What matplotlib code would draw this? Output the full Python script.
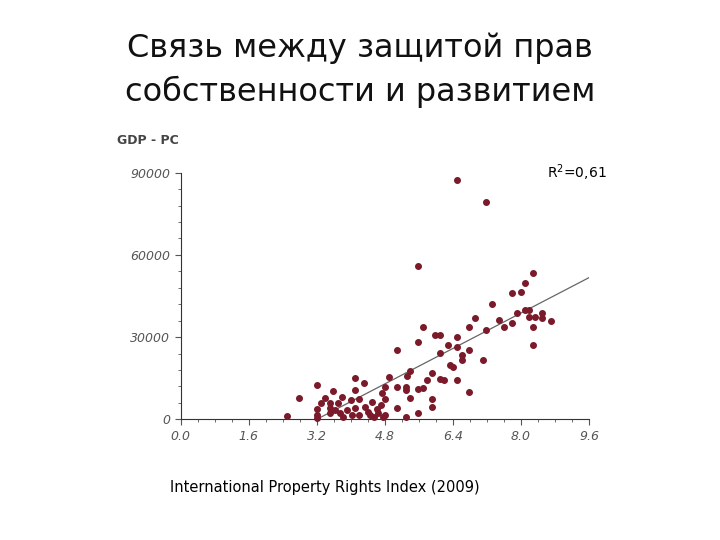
import matplotlib.pyplot as plt
from matplotlib.ticker import MultipleLocator

# International Property Rights Index vs GDP per capita
ipri = [2.49, 2.79, 3.2, 3.2, 3.2, 3.2, 3.29, 3.39, 3.51, 3.51, 3.51, 3.59, 3.63, 3.71,
        3.75, 3.80, 3.82, 3.90, 4.0, 4.02, 4.10, 4.10, 4.10, 4.2, 4.2, 4.3, 4.33, 4.41,
        4.45, 4.5, 4.55, 4.61, 4.65, 4.70, 4.73, 4.76, 4.80, 4.80, 4.80, 4.9, 5.09, 5.09,
        5.09, 5.29, 5.29, 5.29, 5.31, 5.39, 5.39, 5.59, 5.59, 5.59, 5.59, 5.69, 5.69, 5.78,
        5.90, 5.90, 5.90, 5.98, 6.10, 6.10, 6.10, 6.18, 6.29, 6.33, 6.41, 6.49, 6.49, 6.49,
        6.49, 6.61, 6.61, 6.79, 6.79, 6.79, 6.91, 7.10, 7.19, 7.19, 7.31, 7.49, 7.60, 7.78,
        7.78, 7.90, 8.0, 8.10, 8.10, 8.20, 8.20, 8.29, 8.29, 8.29, 8.33, 8.49, 8.49, 8.70]
gdp_pc = [1200, 7900, 12500, 3600, 1600, 400, 6000, 7900, 5800, 4000, 2400, 10500, 3400, 5800,
          2200, 8300, 1000, 3400, 7000, 1600, 15000, 10700, 4000, 7300, 1600, 13100, 4600, 2800,
          1600, 6400, 1000, 3600, 2200, 5200, 9500, 1000, 11900, 7300, 1600, 15600, 25300, 11900,
          4000, 1000, 11900, 10700, 15800, 17800, 7900, 55900, 28100, 11100, 2400, 33800, 11300, 14300,
          16800, 7300, 4600, 30800, 30800, 24300, 14600, 14300, 27100, 19800, 19200, 87500, 30200, 26500,
          14300, 23500, 21600, 33600, 25300, 9800, 36800, 21600, 79400, 32600, 42100, 36200, 33600, 46000,
          35000, 38700, 46600, 49600, 39900, 39900, 37500, 53300, 33800, 27100, 37500, 38900, 36800, 36000]
trend_x = [3.2, 9.6]
trend_y = [0, 51700]

fig = plt.figure(figsize=(7.2, 5.4), dpi=100)
fig.text(0.5, 0.87, "Связь между защитой прав\nсобственности и развитием",
         ha="center", va="center", fontsize=23, linespacing=1.45, color="#111111")

ax = fig.add_axes([0.251, 0.2235, 0.567, 0.4567])
ax.plot(trend_x, trend_y, color="#666666", lw=0.9)
ax.scatter(ipri, gdp_pc, s=16, color="#7a1a2a", zorder=3, clip_on=False)
ax.set_xlim(0, 9.6)
ax.set_ylim(0, 90000)
for s in ("top", "right"):
    ax.spines[s].set_visible(False)
ax.spines["left"].set_color("#333333")
ax.spines["bottom"].set_color("#333333")
ax.set_xticks([0, 1.6, 3.2, 4.8, 6.4, 8.0, 9.6])
ax.set_xticklabels(["0.0", "1.6", "3.2", "4.8", "6.4", "8.0", "9.6"])
ax.set_yticks([0, 30000, 60000, 90000])
ax.xaxis.set_minor_locator(MultipleLocator(0.4))
ax.yaxis.set_minor_locator(MultipleLocator(6000))
ax.tick_params(labelsize=9, colors="#555555", length=4)
ax.tick_params(which="minor", length=2, color="#555555")
for lab in ax.get_xticklabels() + ax.get_yticklabels():
    lab.set_style("italic")

fig.text(0.162, 0.74, "GDP - PC", fontsize=9, fontweight="bold", color="#444444", va="center")
fig.text(0.843, 0.68, "R$^2$=0,61", fontsize=10, ha="right", va="center")
fig.text(0.236, 0.098, "International Property Rights Index (2009)", fontsize=10.5, va="center")

fig.savefig("out.png", dpi=100)
